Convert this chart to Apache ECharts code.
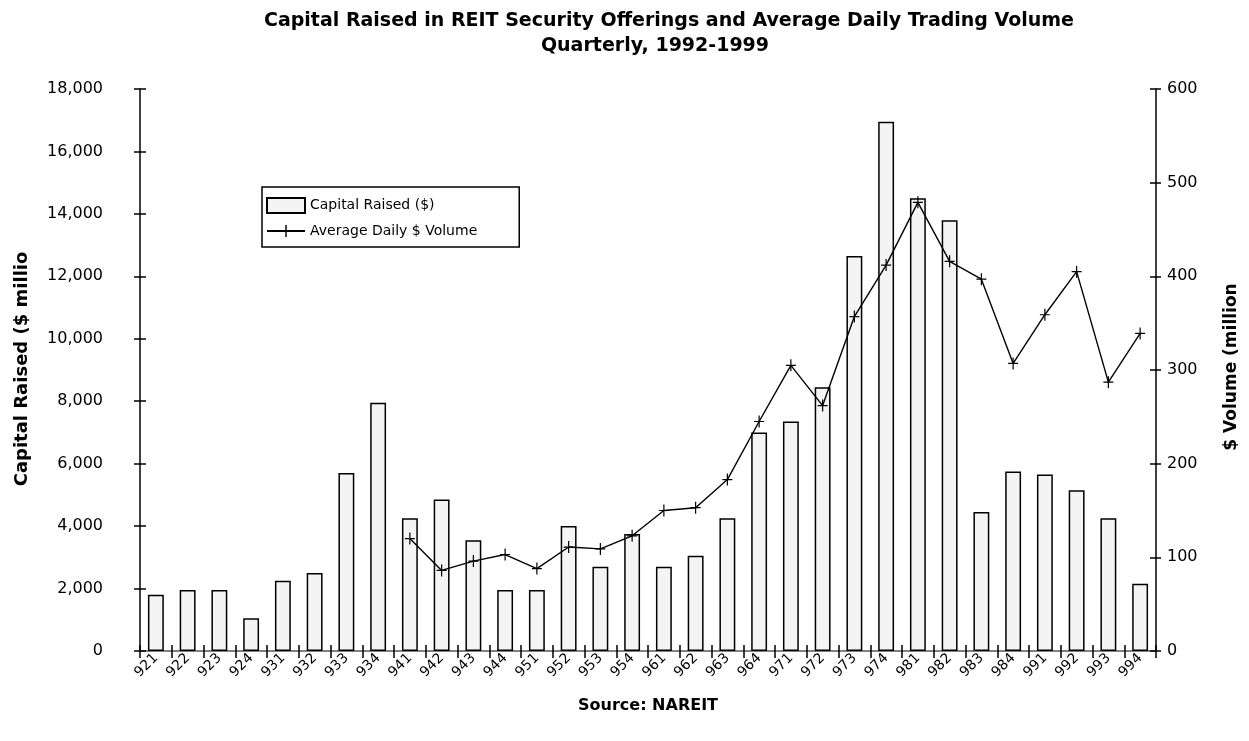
<!DOCTYPE html>
<html>
<head>
<meta charset="utf-8">
<script src="https://cdn.jsdelivr.net/npm/echarts@6/dist/echarts.min.js"></script>
<style>
html,body{margin:0;padding:0;background:#fff;}
#chart{width:1249px;height:741px;}
</style>
</head>
<body>
<div id="chart"></div>
<script>
const categories = ['921','922','923','924','931','932','933','934','941','942','943','944','951','952','953','954','961','962','963','964','971','972','973','974','981','982','983','984','991','992','993','994'];
const capitalRaised = [1800,1950,1950,1050,2250,2500,5700,7950,4250,4850,3550,1950,1950,4000,2700,3750,2700,3050,4250,7000,7350,8450,12650,16950,14500,13800,4450,5750,5650,5150,4250,2150];
const dailyVolume = [null,null,null,null,null,null,null,null,120,86,96,103,88,111,109,123,150,153,183,245,305,262,357,412,479,416,397,307,359,405,287,339];
const leftTicks = {min:0, max:18000, interval:2000};
const rightTicks = {min:0, max:600, interval:100};

const FONT = '"DejaVu Sans", "Liberation Sans", Arial, sans-serif';
const plusPath = 'path://M-0.6,-6H0.6V-0.6H5V0.6H0.6V6H-0.6V0.6H-5V-0.6H-0.6Z';

const chart = echarts.init(document.getElementById('chart'), null, {renderer:'canvas'});
const baseAxisHidden = {axisLabel:{show:false}, splitLine:{show:false}, axisLine:{show:false}};
chart.setOption({
  animation:false,
  backgroundColor:'#fff',
  textStyle:{fontFamily:FONT, color:'#000'},
  legend:{
    orient:'vertical', left:262, top:187,
    borderColor:'#000', borderWidth:1.5, borderRadius:0,
    padding:[10,42,9,4], itemGap:10, itemWidth:38, itemHeight:15,
    textStyle:{fontFamily:FONT, fontSize:14, color:'#000'},
    data:[{name:'Capital Raised ($)', icon:'rect'}, {name:'Average Daily $ Volume'}]
  },
  grid:{left:140, right:93, top:89, bottom:90, containLabel:false},
  xAxis:[
    {type:'category', data:categories, position:'bottom',
     axisLine:{lineStyle:{color:'#000', width:1.5}},
     axisTick:{show:true, length:7, lineStyle:{color:'#000', width:1.5}},
     axisLabel:{rotate:45, fontSize:14, color:'#000', margin:5, fontFamily:FONT}},
    {type:'category', data:categories, position:'top',
     axisLine:{lineStyle:{color:'#999', width:1.5}}, axisTick:{show:false}, axisLabel:{show:false}},
    {type:'category', data:categories, position:'bottom',
     axisLine:{show:false}, axisTick:{show:true, inside:true, length:6, lineStyle:{color:'#000', width:1.5}}, axisLabel:{show:false}}
  ],
  yAxis:[
    Object.assign({type:'value', position:'left'}, leftTicks, {
      axisLine:{show:true, lineStyle:{color:'#000', width:1.5}},
      axisTick:{show:true, length:6, lineStyle:{color:'#000', width:1.5}},
      axisLabel:{fontSize:16, color:'#000', margin:37, fontFamily:FONT, formatter:v=>v.toLocaleString('en-US')},
      splitLine:{show:false}}),
    Object.assign({type:'value', position:'right'}, rightTicks, {
      axisLine:{show:true, lineStyle:{color:'#000', width:1.5}},
      axisTick:{show:true, length:5, lineStyle:{color:'#000', width:1.5}},
      axisLabel:{fontSize:16, color:'#000', margin:11, fontFamily:FONT},
      splitLine:{show:false}}),
    Object.assign({type:'value', position:'left'}, leftTicks, baseAxisHidden, {
      axisTick:{show:true, inside:true, length:6, lineStyle:{color:'#000', width:1.5}}}),
    Object.assign({type:'value', position:'right'}, rightTicks, baseAxisHidden, {
      axisTick:{show:true, inside:true, length:6, lineStyle:{color:'#000', width:1.5}}})
  ],
  series:[
    {name:'Capital Raised ($)', type:'bar', xAxisIndex:0, yAxisIndex:0, data:capitalRaised, barWidth:'50%',
     itemStyle:{color:'#f4f4f4', borderColor:'#000', borderWidth:1.5}},
    {name:'Average Daily $ Volume', type:'line', xAxisIndex:0, yAxisIndex:1, data:dailyVolume,
     symbol:plusPath, symbolSize:[10,12], showSymbol:true, connectNulls:false,
     lineStyle:{color:'#000', width:1.4}, itemStyle:{color:'#000'}}
  ],
  graphic:[
    {type:'text', x:669, y:21,
     style:{text:'Capital Raised in REIT Security Offerings and Average Daily Trading Volume', fontFamily:FONT, fontSize:19, fontWeight:'bold', fill:'#000', align:'center', verticalAlign:'middle'}},
    {type:'text', x:655, y:46,
     style:{text:'Quarterly, 1992-1999', fontFamily:FONT, fontSize:19, fontWeight:'bold', fill:'#000', align:'center', verticalAlign:'middle'}},
    {type:'text', x:22, y:369, rotation:Math.PI/2,
     style:{text:'Capital Raised ($ millio', fontFamily:FONT, fontSize:18, fontWeight:'bold', fill:'#000', align:'center', verticalAlign:'middle'}},
    {type:'text', x:1232, y:367, rotation:Math.PI/2,
     style:{text:'$ Volume (million', fontFamily:FONT, fontSize:17, fontWeight:'bold', fill:'#000', align:'center', verticalAlign:'middle'}},
    {type:'text', x:648, y:706,
     style:{text:'Source: NAREIT', fontFamily:FONT, fontSize:16, fontWeight:'bold', fill:'#000', align:'center', verticalAlign:'middle'}}
  ]
});
</script>
</body>
</html>
